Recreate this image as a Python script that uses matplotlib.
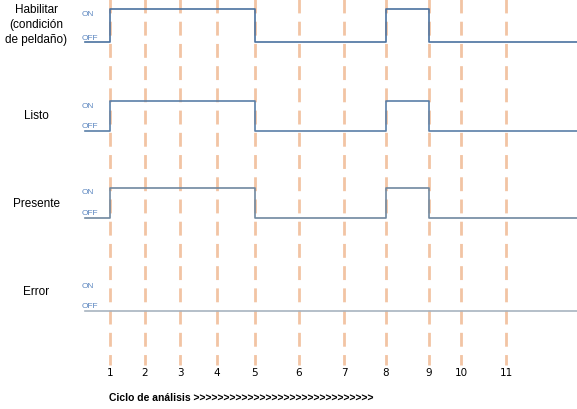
import matplotlib.pyplot as plt

# cycle numbers and their x positions (px)
cycles = [1, 2, 3, 4, 5, 6, 7, 8, 9, 10, 11]
cycle_x = [110, 145, 180, 217, 255, 299, 344, 386, 429, 461, 506]

signals = ['Habilitar\n(condición\nde peldaño)', 'Listo', 'Presente', 'Error']
on_y = [10, 102, 189, 283]
off_y = [43, 132, 219, 312]
# state per step: transition x positions and levels
edges = [110, 255, 386, 429]
states = [
    [0, 1, 0, 1, 0],
    [0, 1, 0, 1, 0],
    [0, 1, 0, 1, 0],
    [0, 0, 0, 0, 0],
]
label_y = [25, 116, 204, 292]
line_colors = ['#4a72a0', '#5a7fa8', '#7088a0', '#a8b4c0']

fig = plt.figure(figsize=(5.77, 4.10), dpi=100)
ax = fig.add_axes([0, 0, 1, 1])
ax.set_xlim(0, 577)
ax.set_ylim(410, 0)
ax.axis('off')

for x in cycle_x:
    ax.plot([x, x], [0, 366], color='#f2c4a4', lw=2, dashes=(5, 3))
for n, x in zip(cycles, cycle_x):
    ax.text(x, 373, str(n), ha='center', va='center', fontsize=7.5, family='DejaVu Sans')

for name, yon, yoff, st, ly, c in zip(signals, on_y, off_y, states, label_y, line_colors):
    xs = [85] + edges + [577]
    px, py = [], []
    for i, s in enumerate(st):
        y = yon if s else yoff
        px += [xs[i], xs[i + 1]]
        py += [y, y]
    ax.plot(px, py, color=c, lw=1.2)
    ax.text(36, ly, name, ha='center', va='center', fontsize=8.5, family='Liberation Sans', linespacing=1.3)
    ax.text(82, yon + 4, 'ON', ha='left', va='center', fontsize=6, color='#5b86c0', family='Liberation Sans')
    ax.text(82, yoff - 5, 'OFF', ha='left', va='center', fontsize=6, color='#5b86c0', family='Liberation Sans')

ax.text(109, 398, 'Ciclo de análisis >>>>>>>>>>>>>>>>>>>>>>>>>>>>>>', ha='left', va='center',
        fontsize=7.5, fontweight='bold', family='Liberation Sans')

fig.savefig('out.png', dpi=100)
